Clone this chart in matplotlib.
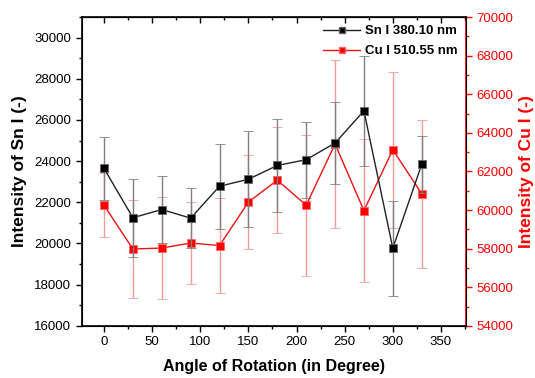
import numpy as np
import matplotlib
matplotlib.use('Agg')
import matplotlib.pyplot as plt
from matplotlib.ticker import MultipleLocator

plt.rcParams['font.family'] = ['Liberation Sans', 'DejaVu Sans']

angle = [0, 30, 60, 90, 120, 150, 180, 210, 240, 270, 300, 330]

sn = [23650, 21250, 21650, 21230, 22780, 23120, 23790, 24070, 24880, 26440, 19770, 23840]
sn_err = [1530, 1900, 1650, 1470, 2070, 2330, 2270, 1840, 2000, 2670, 2300, 1400]

cu = [60250, 57980, 58030, 58290, 58160, 60410, 61550, 60250, 63420, 59970, 63120, 60850]
cu_err = [1660, 2560, 2650, 2140, 2460, 2450, 2740, 3660, 4350, 3690, 4050, 3830]

fig = plt.figure(figsize=(5.35, 3.78), dpi=100)
ax = fig.add_axes([0.153, 0.138, 0.718, 0.817])
ax2 = ax.twinx()

ax2.errorbar(angle, cu, yerr=cu_err, color='#ee1111', ecolor='#f39a9a', elinewidth=1.0,
             capsize=3.5, capthick=1.0, lw=1.0, marker='s', ms=5.5, mfc='#ff0000',
             mec='#ff6666', mew=0.6, zorder=2)
ax.errorbar(angle, sn, yerr=sn_err, color='#222222', ecolor='#808080', elinewidth=1.0,
            capsize=3.5, capthick=1.0, lw=1.0, marker='s', ms=5.5, mfc='#000000',
            mec='#666666', mew=0.6, zorder=3)
ax.set_zorder(ax2.get_zorder() + 1)
ax.patch.set_visible(False)

ax.set_xlim(-23, 376)
ax.set_ylim(16000, 31000)
ax2.set_ylim(54000, 70000)

ax.xaxis.set_major_locator(MultipleLocator(50))
ax.xaxis.set_minor_locator(MultipleLocator(25))
ax.yaxis.set_major_locator(MultipleLocator(2000))
ax.yaxis.set_minor_locator(MultipleLocator(1000))
ax2.yaxis.set_major_locator(MultipleLocator(2000))
ax2.yaxis.set_minor_locator(MultipleLocator(1000))

ax.tick_params(axis='both', which='major', labelsize=9.5, length=4, width=1, direction='out')
ax.tick_params(axis='both', which='minor', length=2.5, width=1, direction='out')
sec = ax.secondary_xaxis('top')
sec.xaxis.set_major_locator(MultipleLocator(50))
sec.xaxis.set_minor_locator(MultipleLocator(25))
sec.tick_params(which='major', direction='in', length=4, width=1, labeltop=False)
sec.tick_params(which='minor', direction='in', length=2.5, width=1)
ax.tick_params(axis='x', which='both', top=False)

ax2.tick_params(axis='y', which='major', labelsize=9.5, length=4, width=1, colors='#ff0000')
ax2.tick_params(axis='y', which='minor', length=2.5, width=1, colors='#ff0000')
ax2.spines['right'].set_color('#ff0000')
for s in ['left', 'bottom', 'top']:
    ax.spines[s].set_linewidth(1.2)
ax2.spines['right'].set_linewidth(1.2)

ax.set_xlabel('Angle of Rotation (in Degree)', fontsize=11.5, fontweight='bold', labelpad=8)
ax.set_ylabel('Intensity of Sn I (-)', fontsize=12.5, fontweight='bold', labelpad=5)
ax2.set_ylabel('Intensity of Cu I (-)', fontsize=12.5, fontweight='bold', color='#ff0000', labelpad=4)

h1, = ax.plot([], [], color='#222222', lw=1.0, marker='s', ms=5, mfc='#000000', mec='#666666')
h2, = ax.plot([], [], color='#ee1111', lw=1.0, marker='s', ms=5, mfc='#ff0000', mec='#ff6666')
ax.legend([h1, h2], ['Sn I 380.10 nm', 'Cu I 510.55 nm'], loc='upper right', frameon=False,
          prop={'weight': 'bold', 'size': 9.5}, handlelength=2.8, borderaxespad=0.2,
          labelspacing=0.6, handletextpad=0.4)

fig.savefig('out.png', dpi=100)
